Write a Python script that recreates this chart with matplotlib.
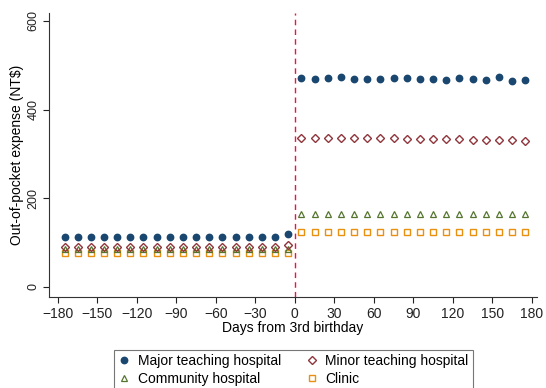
import matplotlib
matplotlib.use("Agg")
import matplotlib.pyplot as plt
import numpy as np

plt.rcParams['font.family'] = ['Liberation Sans', 'DejaVu Sans']

days_pre = [-175, -165, -155, -145, -135, -125, -115, -105, -95, -85, -75, -65, -55, -45, -35, -25, -15, -5]
days_post = [5, 15, 25, 35, 45, 55, 65, 75, 85, 95, 105, 115, 125, 135, 145, 155, 165, 175]

major_pre = [112, 112, 112, 112, 112, 112, 112, 112, 112, 112, 112, 112, 112, 112, 112, 112, 113, 119]
major_post = [472, 469, 471, 474, 470, 470, 470, 471, 472, 470, 469, 466, 472, 469, 467, 474, 465, 468]
minor_pre = [91, 91, 91, 91, 91, 91, 91, 91, 91, 91, 91, 91, 91, 91, 91, 91, 91, 95]
minor_post = [337, 336, 337, 336, 336, 335, 335, 335, 334, 334, 333, 333, 333, 332, 332, 331, 331, 329]
comm_pre = [85, 85, 85, 85, 85, 85, 85, 85, 85, 85, 85, 85, 85, 85, 85, 85, 85, 86]
comm_post = [165, 165, 165, 165, 165, 165, 165, 165, 165, 165, 165, 165, 165, 165, 165, 165, 165, 165]
clinic_pre = [76, 76, 76, 76, 76, 76, 76, 76, 76, 76, 76, 76, 76, 76, 76, 76, 76, 76]
clinic_post = [123, 123, 123, 123, 123, 123, 123, 123, 123, 123, 123, 123, 123, 123, 123, 123, 123, 123]

xticks = [-180, -150, -120, -90, -60, -30, 0, 30, 60, 90, 120, 150, 180]
yticks = [0, 200, 400, 600]

fig = plt.figure(figsize=(5.46, 3.88), dpi=100)
ax = fig.add_axes([0.0897, 0.2345, 0.8938, 0.732])

days = days_pre + days_post
c_major = '#1a476f'
c_minor = '#90353b'
c_comm = '#55752f'
c_clinic = '#e8900f'

ax.plot(days, clinic_pre + clinic_post, ls='none', marker='s', ms=4.8, mfc='none', mec=c_clinic, mew=1.0, label='Clinic', zorder=3)
ax.plot(days, comm_pre + comm_post, ls='none', marker='^', ms=3.8, mfc='none', mec=c_comm, mew=0.9, label='Community hospital', zorder=4)
ax.plot(days, minor_pre + minor_post, ls='none', marker='D', ms=4.2, mfc='none', mec=c_minor, mew=1.0, label='Minor teaching hospital', zorder=5)
ax.plot(days, major_pre + major_post, ls='none', marker='o', ms=4.6, mfc=c_major, mec=c_major, label='Major teaching hospital', zorder=6)

ax.axvline(0, color='#ee1144', ls=(0, (4, 3)), lw=1.0, zorder=2)

ax.set_xlim(-186.8, 184)
ax.set_ylim(-22.6, 618)
ax.set_xticks(xticks)
ax.set_yticks(yticks)
ax.set_yticklabels([str(v) for v in yticks], rotation=90, va='center')
ax.tick_params(axis='both', direction='out', length=4, width=0.8, colors='#222222')
ax.tick_params(axis='x', labelsize=10)
ax.tick_params(axis='y', labelsize=9, pad=3)
for s in ['top', 'right']:
    ax.spines[s].set_visible(False)
for s in ['left', 'bottom']:
    ax.spines[s].set_color('#333333')
    ax.spines[s].set_linewidth(0.8)

ax.set_xlabel('Days from 3rd birthday', fontsize=10, labelpad=0)
ax.set_ylabel('Out-of-pocket expense (NT$)', fontsize=10, labelpad=2)

h, l = ax.get_legend_handles_labels()
order = [3, 1, 2, 0]
leg = fig.legend([h[i] for i in order], [l[i] for i in order], ncol=2, loc='upper center',
                 bbox_to_anchor=(0.5376, 1 - 343 / 388), fontsize=10, frameon=True, fancybox=False,
                 edgecolor='#555555', handlelength=0.8, handletextpad=0.6, columnspacing=1.8,
                 borderpad=0.3, labelspacing=0.3)
leg.get_frame().set_linewidth(0.8)

fig.savefig('out.png', dpi=100, facecolor='white')
